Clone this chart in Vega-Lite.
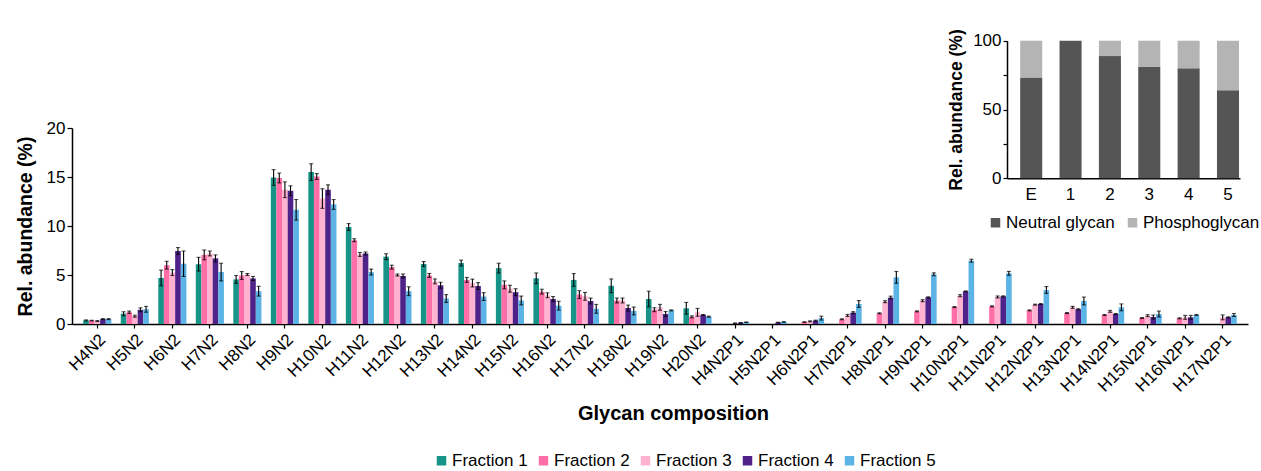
{
  "$schema": "https://vega.github.io/schema/vega-lite/v6.json",
  "width": 1176,
  "height": 284,
  "autosize": "none",
  "padding": {"left": 72, "top": 40, "right": 13, "bottom": 147},
  "background": "white",
  "config": {
    "font": "Liberation Sans",
    "view": {"stroke": null},
    "axis": {"grid": false, "domainColor": "black", "domainWidth": 1.5, "tickColor": "black", "tickWidth": 1.2, "labelColor": "black", "titleColor": "black", "labelFont": "Liberation Sans", "titleFont": "Liberation Sans"},
    "legend": {"labelFont": "Liberation Sans", "labelColor": "black"}
  },
  "datasets": {
    "main": [
      {"c":"H4N2","f":"Fraction 1","v":0.37,"e":0.05},{"c":"H4N2","f":"Fraction 2","v":0.35,"e":0.03},{"c":"H4N2","f":"Fraction 3","v":0.3,"e":0.05},{"c":"H4N2","f":"Fraction 4","v":0.5,"e":0.05},{"c":"H4N2","f":"Fraction 5","v":0.5,"e":0.05},
      {"c":"H5N2","f":"Fraction 1","v":1.05,"e":0.2},{"c":"H5N2","f":"Fraction 2","v":1.2,"e":0.12},{"c":"H5N2","f":"Fraction 3","v":0.8,"e":0.1},{"c":"H5N2","f":"Fraction 4","v":1.45,"e":0.2},{"c":"H5N2","f":"Fraction 5","v":1.5,"e":0.3},
      {"c":"H6N2","f":"Fraction 1","v":4.7,"e":0.8},{"c":"H6N2","f":"Fraction 2","v":6.0,"e":0.4},{"c":"H6N2","f":"Fraction 3","v":5.25,"e":0.3},{"c":"H6N2","f":"Fraction 4","v":7.45,"e":0.35},{"c":"H6N2","f":"Fraction 5","v":6.15,"e":1.3},
      {"c":"H7N2","f":"Fraction 1","v":6.1,"e":0.7},{"c":"H7N2","f":"Fraction 2","v":7.05,"e":0.5},{"c":"H7N2","f":"Fraction 3","v":7.2,"e":0.25},{"c":"H7N2","f":"Fraction 4","v":6.7,"e":0.35},{"c":"H7N2","f":"Fraction 5","v":5.3,"e":0.9},
      {"c":"H8N2","f":"Fraction 1","v":4.55,"e":0.4},{"c":"H8N2","f":"Fraction 2","v":4.95,"e":0.4},{"c":"H8N2","f":"Fraction 3","v":5.05,"e":0.1},{"c":"H8N2","f":"Fraction 4","v":4.65,"e":0.2},{"c":"H8N2","f":"Fraction 5","v":3.35,"e":0.5},
      {"c":"H9N2","f":"Fraction 1","v":14.95,"e":0.8},{"c":"H9N2","f":"Fraction 2","v":14.9,"e":0.5},{"c":"H9N2","f":"Fraction 3","v":13.7,"e":0.8},{"c":"H9N2","f":"Fraction 4","v":13.6,"e":0.5},{"c":"H9N2","f":"Fraction 5","v":11.65,"e":1.05},
      {"c":"H10N2","f":"Fraction 1","v":15.5,"e":0.85},{"c":"H10N2","f":"Fraction 2","v":15.05,"e":0.3},{"c":"H10N2","f":"Fraction 3","v":12.8,"e":1.0},{"c":"H10N2","f":"Fraction 4","v":13.7,"e":0.5},{"c":"H10N2","f":"Fraction 5","v":12.2,"e":0.5},
      {"c":"H11N2","f":"Fraction 1","v":9.9,"e":0.35},{"c":"H11N2","f":"Fraction 2","v":8.55,"e":0.15},{"c":"H11N2","f":"Fraction 3","v":7.1,"e":0.2},{"c":"H11N2","f":"Fraction 4","v":7.2,"e":0.15},{"c":"H11N2","f":"Fraction 5","v":5.3,"e":0.3},
      {"c":"H12N2","f":"Fraction 1","v":6.87,"e":0.3},{"c":"H12N2","f":"Fraction 2","v":5.8,"e":0.2},{"c":"H12N2","f":"Fraction 3","v":5.0,"e":0.1},{"c":"H12N2","f":"Fraction 4","v":4.9,"e":0.2},{"c":"H12N2","f":"Fraction 5","v":3.35,"e":0.45},
      {"c":"H13N2","f":"Fraction 1","v":6.12,"e":0.25},{"c":"H13N2","f":"Fraction 2","v":4.95,"e":0.2},{"c":"H13N2","f":"Fraction 3","v":4.35,"e":0.25},{"c":"H13N2","f":"Fraction 4","v":3.95,"e":0.3},{"c":"H13N2","f":"Fraction 5","v":2.6,"e":0.4},
      {"c":"H14N2","f":"Fraction 1","v":6.22,"e":0.3},{"c":"H14N2","f":"Fraction 2","v":4.5,"e":0.25},{"c":"H14N2","f":"Fraction 3","v":4.18,"e":0.4},{"c":"H14N2","f":"Fraction 4","v":3.88,"e":0.35},{"c":"H14N2","f":"Fraction 5","v":2.8,"e":0.4},
      {"c":"H15N2","f":"Fraction 1","v":5.7,"e":0.5},{"c":"H15N2","f":"Fraction 2","v":4.0,"e":0.4},{"c":"H15N2","f":"Fraction 3","v":3.6,"e":0.35},{"c":"H15N2","f":"Fraction 4","v":3.25,"e":0.35},{"c":"H15N2","f":"Fraction 5","v":2.4,"e":0.45},
      {"c":"H16N2","f":"Fraction 1","v":4.66,"e":0.55},{"c":"H16N2","f":"Fraction 2","v":3.3,"e":0.25},{"c":"H16N2","f":"Fraction 3","v":2.93,"e":0.25},{"c":"H16N2","f":"Fraction 4","v":2.55,"e":0.25},{"c":"H16N2","f":"Fraction 5","v":1.87,"e":0.45},
      {"c":"H17N2","f":"Fraction 1","v":4.5,"e":0.65},{"c":"H17N2","f":"Fraction 2","v":3.0,"e":0.4},{"c":"H17N2","f":"Fraction 3","v":2.82,"e":0.4},{"c":"H17N2","f":"Fraction 4","v":2.35,"e":0.3},{"c":"H17N2","f":"Fraction 5","v":1.55,"e":0.45},
      {"c":"H18N2","f":"Fraction 1","v":3.9,"e":0.7},{"c":"H18N2","f":"Fraction 2","v":2.4,"e":0.25},{"c":"H18N2","f":"Fraction 3","v":2.4,"e":0.25},{"c":"H18N2","f":"Fraction 4","v":1.63,"e":0.3},{"c":"H18N2","f":"Fraction 5","v":1.33,"e":0.4},
      {"c":"H19N2","f":"Fraction 1","v":2.55,"e":0.8},{"c":"H19N2","f":"Fraction 2","v":1.46,"e":0.2},{"c":"H19N2","f":"Fraction 3","v":1.7,"e":0.3},{"c":"H19N2","f":"Fraction 4","v":1.02,"e":0.25},{"c":"H19N2","f":"Fraction 5","v":1.39,"e":0.05},
      {"c":"H20N2","f":"Fraction 1","v":1.6,"e":0.6},{"c":"H20N2","f":"Fraction 2","v":0.73,"e":0.1},{"c":"H20N2","f":"Fraction 3","v":1.19,"e":0.4},{"c":"H20N2","f":"Fraction 4","v":0.92,"e":0.05},{"c":"H20N2","f":"Fraction 5","v":0.75,"e":0.05},
      {"c":"H4N2P1","f":"Fraction 3","v":0.08,"e":0.03},{"c":"H4N2P1","f":"Fraction 4","v":0.12,"e":0.03},{"c":"H4N2P1","f":"Fraction 5","v":0.18,"e":0.03},
      {"c":"H5N2P1","f":"Fraction 4","v":0.15,"e":0.03},{"c":"H5N2P1","f":"Fraction 5","v":0.2,"e":0.03},
      {"c":"H6N2P1","f":"Fraction 2","v":0.2,"e":0.03},{"c":"H6N2P1","f":"Fraction 3","v":0.27,"e":0.05},{"c":"H6N2P1","f":"Fraction 4","v":0.34,"e":0.05},{"c":"H6N2P1","f":"Fraction 5","v":0.6,"e":0.2},
      {"c":"H7N2P1","f":"Fraction 2","v":0.48,"e":0.05},{"c":"H7N2P1","f":"Fraction 3","v":0.88,"e":0.1},{"c":"H7N2P1","f":"Fraction 4","v":1.16,"e":0.1},{"c":"H7N2P1","f":"Fraction 5","v":2.04,"e":0.35},
      {"c":"H8N2P1","f":"Fraction 2","v":1.09,"e":0.05},{"c":"H8N2P1","f":"Fraction 3","v":2.28,"e":0.1},{"c":"H8N2P1","f":"Fraction 4","v":2.69,"e":0.15},{"c":"H8N2P1","f":"Fraction 5","v":4.76,"e":0.6},
      {"c":"H9N2P1","f":"Fraction 2","v":1.29,"e":0.05},{"c":"H9N2P1","f":"Fraction 3","v":2.38,"e":0.1},{"c":"H9N2P1","f":"Fraction 4","v":2.72,"e":0.05},{"c":"H9N2P1","f":"Fraction 5","v":5.07,"e":0.15},
      {"c":"H10N2P1","f":"Fraction 2","v":1.73,"e":0.05},{"c":"H10N2P1","f":"Fraction 3","v":2.89,"e":0.1},{"c":"H10N2P1","f":"Fraction 4","v":3.33,"e":0.05},{"c":"H10N2P1","f":"Fraction 5","v":6.46,"e":0.15},
      {"c":"H11N2P1","f":"Fraction 2","v":1.8,"e":0.05},{"c":"H11N2P1","f":"Fraction 3","v":2.76,"e":0.1},{"c":"H11N2P1","f":"Fraction 4","v":2.82,"e":0.05},{"c":"H11N2P1","f":"Fraction 5","v":5.17,"e":0.2},
      {"c":"H12N2P1","f":"Fraction 2","v":1.39,"e":0.05},{"c":"H12N2P1","f":"Fraction 3","v":1.97,"e":0.05},{"c":"H12N2P1","f":"Fraction 4","v":2.04,"e":0.05},{"c":"H12N2P1","f":"Fraction 5","v":3.47,"e":0.35},
      {"c":"H13N2P1","f":"Fraction 2","v":1.12,"e":0.05},{"c":"H13N2P1","f":"Fraction 3","v":1.7,"e":0.1},{"c":"H13N2P1","f":"Fraction 4","v":1.5,"e":0.05},{"c":"H13N2P1","f":"Fraction 5","v":2.35,"e":0.4},
      {"c":"H14N2P1","f":"Fraction 2","v":0.92,"e":0.05},{"c":"H14N2P1","f":"Fraction 3","v":1.29,"e":0.1},{"c":"H14N2P1","f":"Fraction 4","v":1.02,"e":0.05},{"c":"H14N2P1","f":"Fraction 5","v":1.7,"e":0.35},
      {"c":"H15N2P1","f":"Fraction 2","v":0.61,"e":0.05},{"c":"H15N2P1","f":"Fraction 3","v":0.85,"e":0.1},{"c":"H15N2P1","f":"Fraction 4","v":0.71,"e":0.2},{"c":"H15N2P1","f":"Fraction 5","v":1.02,"e":0.3},
      {"c":"H16N2P1","f":"Fraction 2","v":0.58,"e":0.05},{"c":"H16N2P1","f":"Fraction 3","v":0.68,"e":0.2},{"c":"H16N2P1","f":"Fraction 4","v":0.68,"e":0.2},{"c":"H16N2P1","f":"Fraction 5","v":0.92,"e":0.05},
      {"c":"H17N2P1","f":"Fraction 3","v":0.68,"e":0.25},{"c":"H17N2P1","f":"Fraction 4","v":0.68,"e":0.05},{"c":"H17N2P1","f":"Fraction 5","v":0.92,"e":0.15}
    ],
    "inset": [
      {"s":"E","t":"Neutral glycan","p":73.3},{"s":"E","t":"Phosphoglycan","p":26.7},
      {"s":"1","t":"Neutral glycan","p":100},{"s":"1","t":"Phosphoglycan","p":0},
      {"s":"2","t":"Neutral glycan","p":88.8},{"s":"2","t":"Phosphoglycan","p":11.2},
      {"s":"3","t":"Neutral glycan","p":81},{"s":"3","t":"Phosphoglycan","p":19},
      {"s":"4","t":"Neutral glycan","p":79.9},{"s":"4","t":"Phosphoglycan","p":20.1},
      {"s":"5","t":"Neutral glycan","p":63.9},{"s":"5","t":"Phosphoglycan","p":36.1}
    ]
  },
  "layer": [
    {
      "data": {"name": "main"},
      "mark": {"type": "bar"},
      "encoding": {
        "x": {
          "field": "c", "type": "nominal",
          "scale": {
            "domain": ["H4N2","H5N2","H6N2","H7N2","H8N2","H9N2","H10N2","H11N2","H12N2","H13N2","H14N2","H15N2","H16N2","H17N2","H18N2","H19N2","H20N2","H4N2P1","H5N2P1","H6N2P1","H7N2P1","H8N2P1","H9N2P1","H10N2P1","H11N2P1","H12N2P1","H13N2P1","H14N2P1","H15N2P1","H16N2P1","H17N2P1"],
            "paddingInner": 0.25, "paddingOuter": 0.3
          },
          "axis": {
            "title": "Glycan composition", "titleFontSize": 20, "titleFontWeight": "bold", "titlePadding": 9, "titleX": 601,
            "labelAngle": -45, "labelFontSize": 17, "labelPadding": 3, "tickSize": 4, "orient": "bottom"
          }
        },
        "xOffset": {
          "field": "f", "type": "nominal",
          "scale": {"domain": ["Fraction 1","Fraction 2","Fraction 3","Fraction 4","Fraction 5"], "paddingInner": 0, "paddingOuter": 0}
        },
        "y": {
          "field": "v", "type": "quantitative",
          "scale": {"domain": [0, 20], "range": [284, 88], "nice": false},
          "axis": {
            "title": "Rel. abundance (%)", "titleFontSize": 19.5, "titleFontWeight": "bold", "titlePadding": 11,
            "values": [0, 5, 10, 15, 20], "labelFontSize": 17, "tickSize": 5, "labelPadding": 2, "orient": "left"
          }
        },
        "color": {
          "field": "f", "type": "nominal",
          "scale": {"domain": ["Fraction 1","Fraction 2","Fraction 3","Fraction 4","Fraction 5"], "range": ["#169488","#ff6ea6","#ffb3d0","#4f2289","#5bb4e5"]},
          "legend": {
            "title": null, "orient": "none", "direction": "horizontal", "legendX": 361, "legendY": 412,
            "symbolType": "square", "symbolSize": 90, "symbolStrokeWidth": 0, "labelFontSize": 17, "labelOffset": 2, "columnPadding": 7
          }
        }
      }
    },
    {
      "data": {"name": "main"},
      "transform": [
        {"filter": "datum.e > 0"},
        {"calculate": "datum.v - datum.e", "as": "lo"},
        {"calculate": "datum.v + datum.e", "as": "hi"}
      ],
      "encoding": {
        "x": {
          "field": "c", "type": "nominal",
          "scale": {
            "domain": ["H4N2","H5N2","H6N2","H7N2","H8N2","H9N2","H10N2","H11N2","H12N2","H13N2","H14N2","H15N2","H16N2","H17N2","H18N2","H19N2","H20N2","H4N2P1","H5N2P1","H6N2P1","H7N2P1","H8N2P1","H9N2P1","H10N2P1","H11N2P1","H12N2P1","H13N2P1","H14N2P1","H15N2P1","H16N2P1","H17N2P1"],
            "paddingInner": 0.25, "paddingOuter": 0.3
          },
          "axis": null
        },
        "xOffset": {
          "field": "f", "type": "nominal",
          "scale": {"domain": ["Fraction 1","Fraction 2","Fraction 3","Fraction 4","Fraction 5"], "paddingInner": 0, "paddingOuter": 0}
        }
      },
      "layer": [
        {
          "mark": {"type": "rule", "color": "black", "strokeWidth": 1.1},
          "encoding": {
            "y": {"field": "lo", "type": "quantitative", "scale": {"domain": [0, 20], "range": [284, 88], "nice": false}, "axis": null},
            "y2": {"field": "hi"}
          }
        },
        {
          "mark": {"type": "tick", "color": "black", "size": 4, "thickness": 1.1},
          "encoding": {"y": {"field": "hi", "type": "quantitative", "scale": {"domain": [0, 20], "range": [284, 88], "nice": false}, "axis": null}}
        },
        {
          "mark": {"type": "tick", "color": "black", "size": 4, "thickness": 1.1},
          "encoding": {"y": {"field": "lo", "type": "quantitative", "scale": {"domain": [0, 20], "range": [284, 88], "nice": false}, "axis": null}}
        }
      ]
    },
    {
      "data": {"name": "inset"},
      "mark": {"type": "bar"},
      "encoding": {
        "x": {
          "field": "s", "type": "nominal",
          "scale": {"domain": ["E","1","2","3","4","5"], "range": [935, 1168], "paddingInner": 0.44, "paddingOuter": 0.18, "align": 0.93},
          "axis": {"orient": "bottom", "offset": -145.7, "title": null, "labelAngle": 0, "labelFontSize": 17, "ticks": false, "labelPadding": 8}
        },
        "y": {
          "field": "p", "type": "quantitative", "stack": "zero",
          "scale": {"domain": [0, 100], "range": [138.3, 0.7], "nice": false},
          "axis": {
            "orient": "left", "offset": -935, "title": "Rel. abundance (%)", "titleFontSize": 17.5, "titleFontWeight": "bold", "titlePadding": 7,
            "values": [0, 25, 50, 75, 100], "labelExpr": "datum.value % 50 == 0 ? datum.label : ''", "labelFontSize": 17, "tickSize": 4, "labelPadding": 2
          }
        },
        "color": {
          "field": "t", "type": "nominal",
          "scale": {"domain": ["Neutral glycan","Phosphoglycan"], "range": ["#555555","#b4b4b4"]},
          "legend": {
            "title": null, "orient": "none", "direction": "horizontal", "legendX": 915, "legendY": 174,
            "symbolType": "square", "symbolSize": 90, "symbolStrokeWidth": 0, "labelFontSize": 17, "labelOffset": 2, "columnPadding": 9
          }
        },
        "order": {"field": "t", "sort": "ascending"}
      }
    }
  ],
  "resolve": {
    "scale": {"x": "independent", "y": "independent", "color": "independent", "xOffset": "independent"},
    "axis": {"x": "independent", "y": "independent"},
    "legend": {"color": "independent"}
  }
}
